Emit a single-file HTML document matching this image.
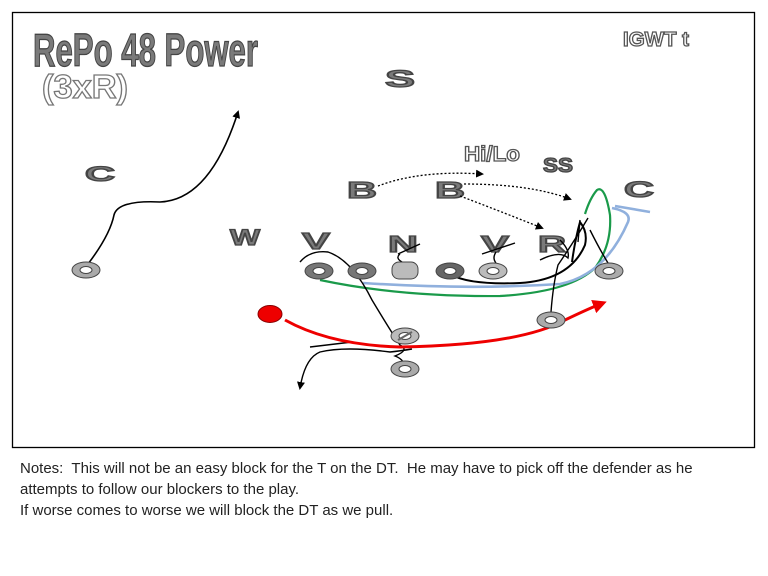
<!DOCTYPE html>
<html><head><style>
body{margin:0;background:#fff;width:768px;height:576px;overflow:hidden;font-family:"Liberation Sans",sans-serif}
.n{position:absolute;left:20px;font-size:15px;color:#222;line-height:21px}
</style></head><body>
<svg width="768" height="576" style="position:absolute;left:0;top:0">
<defs>
<marker id="ak" markerWidth="8" markerHeight="8" refX="6" refY="4" orient="auto" markerUnits="userSpaceOnUse"><path d="M0,0 L8,4 L0,8z" fill="#000"/></marker>
<marker id="ar" markerWidth="14" markerHeight="14" refX="10" refY="7" orient="auto" markerUnits="userSpaceOnUse"><path d="M0,0 L14,7 L0,14z" fill="#e00"/></marker>
</defs>
<rect x="12.5" y="12.5" width="742" height="435" fill="none" stroke="#000" stroke-width="1.3"/>
<g font-family="Liberation Sans" font-weight="bold" fill="#7a7a7a" stroke="#444" stroke-width="1.3">
<text x="33" y="66" font-size="46" textLength="225" lengthAdjust="spacingAndGlyphs">RePo 48 Power</text>
<text x="42" y="98" font-size="33" textLength="86" lengthAdjust="spacingAndGlyphs" fill="#fff" stroke="#777">(3xR)</text>
<text x="623" y="46" font-size="20" textLength="66" lengthAdjust="spacingAndGlyphs" fill="#fff" stroke="#555">IGWT t</text>
<text x="464" y="161" font-size="21" textLength="56" lengthAdjust="spacingAndGlyphs" fill="#fff" stroke="#555">Hi/Lo</text>
<text x="385" y="87" font-size="24" textLength="30" lengthAdjust="spacingAndGlyphs">S</text>
<text x="85" y="181" font-size="21" textLength="30" lengthAdjust="spacingAndGlyphs">C</text>
<text x="230" y="245" font-size="22" textLength="30" lengthAdjust="spacingAndGlyphs">W</text>
<text x="302" y="249" font-size="23" textLength="28" lengthAdjust="spacingAndGlyphs">V</text>
<text x="388" y="252" font-size="23" textLength="30" lengthAdjust="spacingAndGlyphs">N</text>
<text x="481" y="252" font-size="23" textLength="28" lengthAdjust="spacingAndGlyphs">V</text>
<text x="538" y="252" font-size="23" textLength="28" lengthAdjust="spacingAndGlyphs">R</text>
<text x="347" y="198" font-size="23" textLength="30" lengthAdjust="spacingAndGlyphs">B</text>
<text x="435" y="198" font-size="23" textLength="30" lengthAdjust="spacingAndGlyphs">B</text>
<text x="624" y="197" font-size="22" textLength="30" lengthAdjust="spacingAndGlyphs">C</text>
<text x="543" y="172" font-size="20" textLength="30" lengthAdjust="spacingAndGlyphs">SS</text>
</g>
<g fill="none" stroke="#000" stroke-width="1.3" stroke-dasharray="2,2">
<path d="M378,186 Q420,170 482,174" marker-end="url(#ak)"/>
<path d="M464,184 Q530,184 570,199" marker-end="url(#ak)"/>
<path d="M460,196 Q510,215 542,228" marker-end="url(#ak)"/>
</g>
<path d="M88,264 Q110,235 114,215 Q118,200 160,202 Q210,200 238,112" fill="none" stroke="#000" stroke-width="1.6" marker-end="url(#ak)"/>
<path d="M320,280 Q400,297 500,296 Q570,292 595,268 Q612,245 610,215 Q605,185 597,190 Q590,198 585,214" fill="none" stroke="#1a9a4a" stroke-width="2.2"/>
<path d="M363,283 Q470,290 560,284 Q605,275 628,222 Q632,212 612,208 M615,206 L650,212" fill="none" stroke="#90b0dd" stroke-width="2.6"/>
<path d="M452,275 Q470,285 520,283 Q570,280 585,245 Q588,232 580,222 Q575,240 572,262" fill="none" stroke="#000" stroke-width="2"/>
<path d="M300,262 Q310,250 328,252 Q352,260 372,300 Q390,330 400,345 Q410,350 395,356 Q405,360 403,366" fill="none" stroke="#000" stroke-width="1.4"/>
<path d="M412,349 Q400,351 390,352 Q345,346 320,352 Q305,358 300,388" fill="none" stroke="#000" stroke-width="1.4" marker-end="url(#ak)"/>
<path d="M398,254 L420,244 M400,254 Q395,258 402,262 M482,254 L515,243 M496,252 Q492,258 496,263 M540,260 Q560,250 568,258 Q570,250 560,240 M551,312 Q553,285 558,265 Q575,240 588,218 M580,220 L578,242 M590,230 Q600,250 608,263 M310,347 L352,342" fill="none" stroke="#000" stroke-width="1.4"/>
<path d="M285,320 Q330,345 400,347 Q520,345 565,320 Q590,308 603,303" fill="none" stroke="#e00" stroke-width="3" marker-end="url(#ar)"/>
<ellipse cx="270" cy="314" rx="12" ry="8.5" fill="#e00" stroke="#800" stroke-width="1"/>
<g stroke="#444" stroke-width="1">
<ellipse cx="86" cy="270" rx="14" ry="8" fill="#aaa"/><ellipse cx="86" cy="270" rx="6" ry="3.5" fill="#fff"/>
<ellipse cx="319" cy="271" rx="14" ry="8" fill="#777"/><ellipse cx="319" cy="271" rx="6" ry="3.5" fill="#fff"/>
<ellipse cx="362" cy="271" rx="14" ry="8" fill="#777"/><ellipse cx="362" cy="271" rx="6" ry="3.5" fill="#fff"/>
<rect x="392" y="262" width="26" height="17" rx="7" fill="#bbb"/>
<ellipse cx="450" cy="271" rx="14" ry="8" fill="#666"/><ellipse cx="450" cy="271" rx="6" ry="3.5" fill="#fff"/>
<ellipse cx="493" cy="271" rx="14" ry="8" fill="#bbb"/><ellipse cx="493" cy="271" rx="6" ry="3.5" fill="#fff"/>
<ellipse cx="609" cy="271" rx="14" ry="8" fill="#aaa"/><ellipse cx="609" cy="271" rx="6" ry="3.5" fill="#fff"/>
<ellipse cx="551" cy="320" rx="14" ry="8" fill="#aaa"/><ellipse cx="551" cy="320" rx="6" ry="3.5" fill="#fff"/>
<ellipse cx="405" cy="336" rx="14" ry="8" fill="#bbb"/><ellipse cx="405" cy="336" rx="6" ry="3.5" fill="#fff"/><line x1="398" y1="340" x2="412" y2="332" stroke="#666" stroke-width="2"/>
<ellipse cx="405" cy="369" rx="14" ry="8" fill="#aaa"/><ellipse cx="405" cy="369" rx="6" ry="3.5" fill="#fff"/>
</g>
</svg>
<div class="n" style="top:458px">Notes:&nbsp; This will not be an easy block for the T on the DT.&nbsp; He may have to pick off the defender as he<br>attempts to follow our blockers to the play.<br>If worse comes to worse we will block the DT as we pull.</div>
</body></html>
